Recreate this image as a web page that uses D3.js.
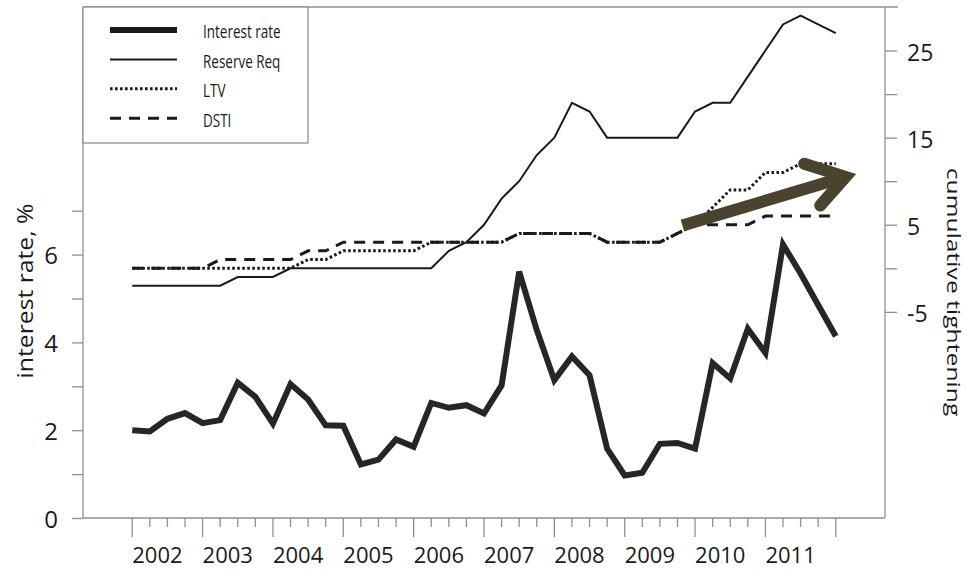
<!DOCTYPE html>
<html><head><meta charset="utf-8">
<script src="https://cdn.jsdelivr.net/npm/d3@7"></script>
<style>
body{margin:0;background:#fff}
svg{display:block}
text{font-family:"Open Sans",sans-serif;fill:#1a1a1a}
</style>
</head><body>
<svg id="chart" width="967" height="570"></svg>
<script>
// ---------- data ----------
const quarters = [
  "2002Q1","2002Q2","2002Q3","2002Q4","2003Q1","2003Q2","2003Q3","2003Q4",
  "2004Q1","2004Q2","2004Q3","2004Q4","2005Q1","2005Q2","2005Q3","2005Q4",
  "2006Q1","2006Q2","2006Q3","2006Q4","2007Q1","2007Q2","2007Q3","2007Q4",
  "2008Q1","2008Q2","2008Q3","2008Q4","2009Q1","2009Q2","2009Q3","2009Q4",
  "2010Q1","2010Q2","2010Q3","2010Q4","2011Q1","2011Q2","2011Q3","2011Q4",
  "2012Q1"
];
const interestRate = [
  2.00,1.97,2.26,2.39,2.16,2.23,3.08,2.76,2.15,3.05,2.70,2.11,2.10,1.22,1.33,1.79,
  1.62,2.62,2.51,2.57,2.38,3.02,5.61,4.28,3.14,3.68,3.25,1.58,0.97,1.03,1.69,1.71,
  1.58,3.53,3.18,4.31,3.76,6.23,5.57,4.85,4.14
];
const reserveReq = [
  -2,-2,-2,-2,-2,-2,-1,-1,-1,0,0,0,0,0,0,0,0,0,2,3,5,8,10,13,15,19,18,
  15,15,15,15,15,18,19,19,22,25,28,29,28,27
];
const ltv = [
  0,0,0,0,0,0,0,0,0,0,1,1,2,2,2,2,2,3,3,3,3,3,4,4,4,4,4,3,3,3,3,4,5,7,9,9,11,11,12,12,12
];
const dsti = [
  0,0,0,0,0,1,1,1,1,1,2,2,3,3,3,3,3,3,3,3,3,3,4,4,4,4,4,3,3,3,3,4,5,5,5,5,6,6,6,6,6
];
const yearLabels = ["2002","2003","2004","2005","2006","2007","2008","2009","2010","2011"];
const leftTicks = [0,1,2,3,4,5,6,7];
const leftLabels = [0,2,4,6];
const rightTicks = [-5,0,5,10,15,20,25];
const rightLabels = [-5,5,15,25];
const seriesNames = ["Interest rate","Reserve Req","LTV","DSTI"];
const axisTitles = ["interest rate, %","cumulative tightening"];
// annotation arrow (year, right-axis value)
const arrowShaft = [[2009.82,4.9],[2012.14,10.5]];
const arrowHead = [[2011.55,12.0],[2012.14,10.5],[2011.78,7.2]];

// ---------- scales ----------
const svg = d3.select("#chart");
const toYear = q => +q.slice(0,4) + (+q.slice(5)-1)/4;
const x = d3.scaleLinear().domain([2001.3,2012.7]).range([83,885]);
const yL = d3.scaleLinear().domain([0,11.64]).range([518,7]);
const yR = d3.scaleLinear().domain([-28.67,30]).range([518,7]);

const AX = "#8f8f8f";

// top border
svg.append("line").attr("x1",83).attr("x2",898).attr("y1",7).attr("y2",7)
  .attr("stroke",AX).attr("stroke-width",1.3);

// left axis
const gL = svg.append("g").attr("transform","translate(83,0)")
  .call(d3.axisLeft(yL).tickValues(leftTicks).tickSize(11).tickSizeOuter(0).tickFormat(""));
gL.select(".domain").remove();
gL.selectAll("line").attr("stroke",AX).attr("stroke-width",1.3);
svg.append("line").attr("x1",83).attr("x2",83).attr("y1",7).attr("y2",518).attr("stroke",AX).attr("stroke-width",1.3);
svg.selectAll(".lt").data(leftLabels).enter().append("text")
  .attr("x",58).attr("y",d=>yL(d)+9.5).attr("text-anchor","end")
  .attr("font-size",24).text(d=>d);

// right axis
const gR = svg.append("g").attr("transform","translate(885,0)")
  .call(d3.axisRight(yR).tickValues(rightTicks).tickSize(12).tickSizeOuter(0).tickFormat(""));
gR.select(".domain").remove();
gR.selectAll("line").attr("stroke",AX).attr("stroke-width",1.3);
svg.append("line").attr("x1",885).attr("x2",885).attr("y1",7).attr("y2",518).attr("stroke",AX).attr("stroke-width",1.3);
svg.selectAll(".rt").data(rightLabels).enter().append("text")
  .attr("x",907).attr("y",d=>yR(d)+10.5).attr("text-anchor","start")
  .attr("font-size",23).text(d=>d);

// bottom axis
svg.append("line").attr("x1",83).attr("x2",885).attr("y1",518).attr("y2",518).attr("stroke",AX).attr("stroke-width",1.3);
svg.selectAll(".qt").data(quarters).enter().append("line")
  .attr("x1",d=>x(toYear(d))).attr("x2",d=>x(toYear(d)))
  .attr("y1",518).attr("y2",d=>d.endsWith("Q1")?537:527)
  .attr("stroke",AX).attr("stroke-width",1.3);
svg.selectAll(".yl").data(yearLabels).enter().append("text")
  .attr("x",d=>x(+d)).attr("y",563)
  .attr("font-size",22).text(d=>d);

// axis titles
svg.append("text").attr("transform","translate(33,291) scale(1,1.15) rotate(-90)")
  .attr("text-anchor","middle").attr("font-size",21.5).text(axisTitles[0]);
svg.append("text").attr("transform","translate(946.5,292) scale(1,1.3) rotate(90)")
  .attr("text-anchor","middle").attr("font-size",19).text(axisTitles[1]);

// ---------- series ----------
const lineR = d3.line().x((d,i)=>x(toYear(quarters[i]))).y(d=>yR(d));
const lineL = d3.line().x((d,i)=>x(toYear(quarters[i]))).y(d=>yL(d));

svg.append("path").datum(dsti).attr("d",lineR).attr("fill","none")
  .attr("stroke","#1a1a1a").attr("stroke-width",3).attr("stroke-dasharray","11,8");
svg.append("path").datum(ltv).attr("d",lineR).attr("fill","none")
  .attr("stroke","#1a1a1a").attr("stroke-width",3).attr("stroke-dasharray","2.6,2.4");
svg.append("path").datum(reserveReq).attr("d",lineR).attr("fill","none")
  .attr("stroke","#1a1a1a").attr("stroke-width",2);
svg.append("path").datum(interestRate).attr("d",lineL).attr("fill","none")
  .attr("stroke","#262626").attr("stroke-width",6).attr("stroke-linejoin","miter");

// annotation arrow
const ptLine = d3.line().x(d=>x(d[0])).y(d=>yR(d[1]));
const AR = "#4a4330";
svg.append("path").attr("d",ptLine(arrowShaft)).attr("fill","none")
  .attr("stroke",AR).attr("stroke-width",12);
svg.append("path").attr("d",ptLine(arrowHead)).attr("fill","none")
  .attr("stroke",AR).attr("stroke-width",12).attr("stroke-linejoin","miter")
  .attr("stroke-linecap","round");

// ---------- legend ----------
const leg = svg.append("g");
leg.append("rect").attr("x",83).attr("y",7).attr("width",225).attr("height",136)
  .attr("fill","#fff").attr("stroke",AX).attr("stroke-width",1.3);
const legStyle = [
  {w:6,dash:null},{w:2,dash:null},{w:3,dash:"2.6,2.4"},{w:3,dash:"11,8"}
];
seriesNames.forEach((name,i)=>{
  const yy = 30 + i*29.4;
  leg.append("line").attr("x1",110).attr("x2",177).attr("y1",yy).attr("y2",yy)
    .attr("stroke","#1a1a1a").attr("stroke-width",legStyle[i].w)
    .attr("stroke-dasharray",legStyle[i].dash);
  leg.append("text").attr("transform",`translate(203,${yy+8.3}) scale(1,1.38)`)
    .attr("font-size",13.5).text(name);
});
</script>
</body></html>
